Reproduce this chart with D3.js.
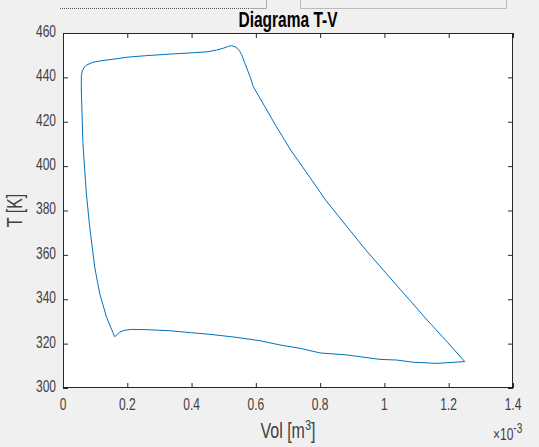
<!DOCTYPE html>
<html>
<head>
<meta charset="utf-8">
<script src="https://cdn.jsdelivr.net/npm/d3@7"></script>
<style>
  body { margin: 0; background: #f0f0f0; }
  svg { display: block; font-family: "Liberation Sans", Arial, sans-serif; }
</style>
</head>
<body>
<script>
// volume in 1e-3 m^3, temperature in K, traced clockwise from the top-left corner
var vol = [0.057, 0.06, 0.066, 0.074, 0.093, 0.115, 0.177, 0.2, 0.26, 0.333, 0.405, 0.448, 0.478, 0.5, 0.515, 0.525, 0.538, 0.548, 0.556, 0.566, 0.582, 0.592,
           0.634, 0.661, 0.708, 0.763, 0.817, 0.879, 0.942, 1.010, 1.078, 1.133, 1.190, 1.250,
           1.163, 1.09, 1.038, 0.986, 0.883, 0.8, 0.737, 0.675, 0.613, 0.535, 0.457, 0.4, 0.333, 0.26, 0.2125, 0.19, 0.175, 0.161,
           0.148, 0.135, 0.114, 0.0985, 0.083, 0.0726, 0.062, 0.057, 0.057];
var temp = [440.5, 443.0, 444.6, 445.6, 446.8, 447.4, 448.6, 449.1, 449.8, 450.5, 451.1, 451.5, 452.3, 453.2, 454.0, 454.3, 453.6, 452.2, 450.2, 446.3, 440.3, 435.8,
            425.3, 418.5, 407.3, 396.0, 384.7, 373.5, 362.2, 350.9, 339.7, 330.6, 321.6, 311.9,
            311.1, 311.6, 312.6, 312.9, 314.9, 315.8, 317.9, 319.4, 321.3, 322.9, 324.2, 324.9, 325.8, 326.3, 326.4, 326.0, 325.0, 323.1,
            327.5, 332.1, 342.7, 354.6, 372.7, 387.7, 410.3, 434.3, 440.5];
var xTicks = [0, 0.2, 0.4, 0.6, 0.8, 1, 1.2, 1.4];
var yTicks = [300, 320, 340, 360, 380, 400, 420, 440, 460];

var W = 539, H = 447;
var m = {left: 63, right: 26, top: 33, bottom: 59};
var SY = 1.38; // the screenshot is stretched vertically, text included

var svg = d3.select("body").append("svg")
            .attr("width", W)
            .attr("height", H);

// stretch a text vertically about its baseline y0
function tall(t, y0) {
  t.attr("transform", "translate(0," + (y0 * (1 - SY)) + ") scale(1," + SY + ")");
  return t;
}

// bits of window UI peeking in at the top
svg.append("line").attr("x1", 60).attr("x2", 250).attr("y1", 8.5).attr("y2", 8.5)
   .attr("stroke", "#555").attr("stroke-dasharray", "1,1");
svg.append("path").attr("d", "M250,8.5H266.5V0").attr("fill", "none").attr("stroke", "#aaa");
svg.append("path").attr("d", "M300.5,0V8.5H506.5V0").attr("fill", "none").attr("stroke", "#bbb");

var x = d3.scaleLinear().domain([0, 1.4]).range([m.left, W - m.right]);
var y = d3.scaleLinear().domain([300, 460]).range([H - m.bottom, m.top]);

svg.append("rect")
   .attr("x", m.left).attr("y", m.top)
   .attr("width", W - m.left - m.right).attr("height", H - m.top - m.bottom)
   .attr("fill", "#fff");

var pts = vol.map(function(d, i) { return [d, temp[i]]; });
var line = d3.line()
             .x(function(d) { return x(d[0]); })
             .y(function(d) { return y(d[1]); });

svg.append("path")
   .datum(pts)
   .attr("d", line)
   .attr("fill", "none")
   .attr("stroke", "#0072bd")
   .attr("stroke-width", 1)
   .attr("stroke-linejoin", "round");

function plainAxis(g) {
  g.select(".domain").remove();
  g.selectAll(".tick line").attr("stroke", "#262626");
}

// tick marks on all four sides, pointing in
svg.append("g").attr("transform", "translate(0," + (H - m.bottom) + ")")
   .call(d3.axisBottom(x).tickValues(xTicks).tickSizeInner(-5).tickSizeOuter(0).tickFormat(""))
   .call(plainAxis);
svg.append("g").attr("transform", "translate(0," + m.top + ")")
   .call(d3.axisTop(x).tickValues(xTicks).tickSizeInner(-5).tickSizeOuter(0).tickFormat(""))
   .call(plainAxis);
svg.append("g").attr("transform", "translate(" + m.left + ",0)")
   .call(d3.axisLeft(y).tickValues(yTicks).tickSizeInner(-5).tickSizeOuter(0).tickFormat(""))
   .call(plainAxis);
svg.append("g").attr("transform", "translate(" + (W - m.right) + ",0)")
   .call(d3.axisRight(y).tickValues(yTicks).tickSizeInner(-5).tickSizeOuter(0).tickFormat(""))
   .call(plainAxis);

// tick labels
svg.append("g").selectAll("text")
   .data(xTicks)
   .enter().append("text")
   .attr("x", function(d) { return x(d); })
   .attr("y", 410)
   .attr("text-anchor", "middle")
   .style("font-size", "12px").attr("fill", "#404040")
   .text(function(d) { return String(d); })
   .each(function() { tall(d3.select(this), 410); });

svg.append("g").selectAll("text")
   .data(yTicks)
   .enter().append("text")
   .attr("x", 56)
   .attr("y", function(d) { return y(d) + 4; })
   .attr("text-anchor", "end")
   .style("font-size", "12px").attr("fill", "#404040")
   .text(function(d) { return String(d); })
   .each(function(d) { tall(d3.select(this), y(d) + 4); });

svg.append("rect")
   .attr("x", m.left + 0.5).attr("y", m.top + 0.5)
   .attr("width", W - m.left - m.right - 1).attr("height", H - m.top - m.bottom - 1)
   .attr("fill", "none").attr("stroke", "#262626");

tall(svg.append("text")
   .attr("x", (m.left + W - m.right) / 2).attr("y", 27)
   .attr("text-anchor", "middle")
   .style("font-size", "15.5px").style("font-weight", "bold")
   .attr("fill", "#000")
   .text("Diagrama T-V"), 27);

var xl = tall(svg.append("text")
   .attr("x", (m.left + W - m.right) / 2).attr("y", 438)
   .attr("text-anchor", "middle")
   .style("font-size", "16px").attr("fill", "#404040"), 438);
xl.append("tspan").text("Vol [m");
xl.append("tspan").attr("dy", -6).style("font-size", "11px").text("3");
xl.append("tspan").attr("dy", 6).text("]");

svg.append("text")
   .attr("transform", "translate(22," + ((m.top + H - m.bottom) / 2) + ") scale(" + SY + ",1) rotate(-90)")
   .attr("text-anchor", "middle")
   .style("font-size", "16px").attr("fill", "#404040")
   .text("T [K]");

var ex = tall(svg.append("text")
   .attr("x", 493).attr("y", 440)
   .style("font-size", "12px").attr("fill", "#404040"), 440);
ex.append("tspan").text("\u00d710");
ex.append("tspan").attr("dy", -5).style("font-size", "10px").text("-3");
</script>
</body>
</html>
